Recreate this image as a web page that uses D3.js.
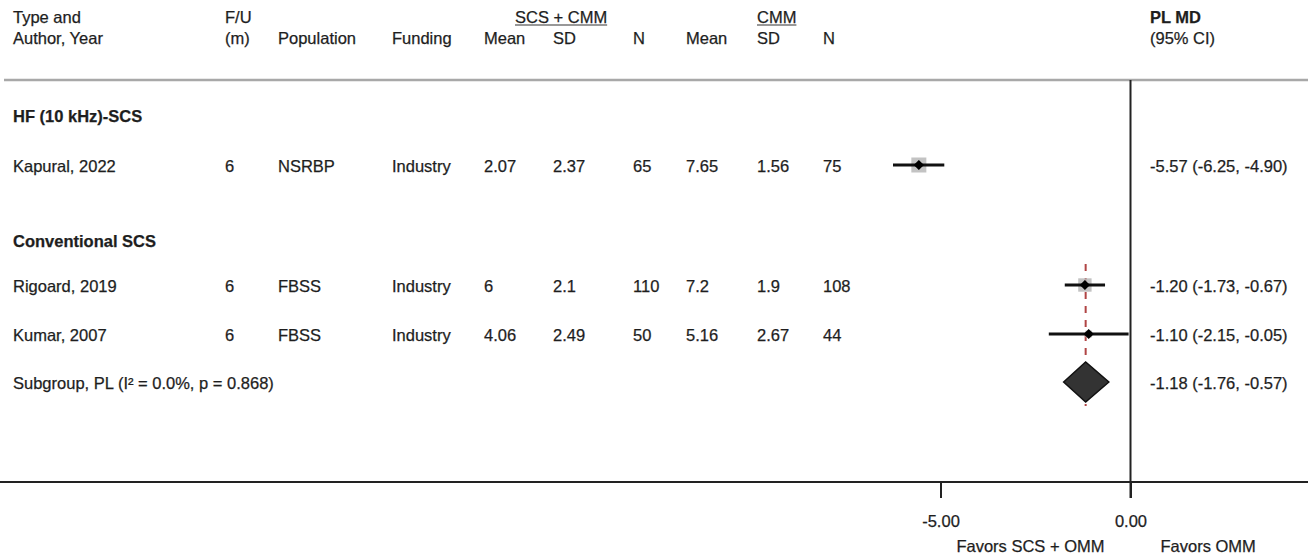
<!DOCTYPE html>
<html>
<head>
<meta charset="utf-8">
<script src="https://cdn.jsdelivr.net/npm/d3@7"></script>
<style>
  html, body { margin: 0; padding: 0; background: #fff; }
  svg text { font-family: "Liberation Sans", Arial, Helvetica, sans-serif; fill: #1e1e1e; stroke: #1e1e1e; stroke-width: 0.25px; }
</style>
</head>
<body>
<svg id="chart" width="1308" height="556"></svg>
<script>
// ---- study-level data ----
const studyNames   = ["Kapural, 2022", "Rigoard, 2019", "Kumar, 2007"];
const studyGroups  = ["HF (10 kHz)-SCS", "Conventional SCS", "Conventional SCS"];
const followUp     = [6, 6, 6];
const populations  = ["NSRBP", "FBSS", "FBSS"];
const fundings     = ["Industry", "Industry", "Industry"];
const scsMean      = [2.07, 6, 4.06];
const scsSD        = [2.37, 2.1, 2.49];
const scsN         = [65, 110, 50];
const cmmMean      = [7.65, 7.2, 5.16];
const cmmSD        = [1.56, 1.9, 2.67];
const cmmN         = [75, 108, 44];
const meanDiff     = [-5.57, -1.20, -1.10];
const ciLower      = [-6.25, -1.73, -2.15];
const ciUpper      = [-4.90, -0.67, -0.05];
const weightPct    = [100, 79.7, 20.3];

// ---- pooled estimate for the conventional subgroup ----
const pooledLabel  = "Subgroup, PL (I\u00B2 = 0.0%, p = 0.868)";
const pooledMD     = -1.18;
const pooledLower  = -1.76;
const pooledUpper  = -0.57;

// ---- axis ----
const axisTicks    = [-5, 0];
const favorsLeft   = "Favors SCS + OMM";
const favorsRight  = "Favors OMM";

const svg = d3.select("#chart");
const FS = 16.5;

// forest plot scale
const x = d3.scaleLinear().domain([-5, 0]).range([940.5, 1130.5]);

// row layout (text baselines)
const groupRows = { "HF (10 kHz)-SCS": 122, "Conventional SCS": 247 };
const studyRows = [172, 292, 341];
const pooledRow = 389;
const markOffset = -7;

// column positions
const cols = {
  author: 13, fu: 225, pop: 278, fund: 392,
  m1: 484, sd1: 553, n1: 633, m2: 686, sd2: 757, n2: 823, est: 1150
};

function txt(xp, yp, s, opts = {}) {
  const t = svg.append("text")
    .attr("x", xp).attr("y", yp)
    .attr("font-size", opts.size || FS)
    .attr("font-weight", opts.bold ? "bold" : "normal")
    .attr("text-anchor", opts.anchor || "start")
    .text(s);
  return t;
}

// ---- header ----
txt(cols.author, 22.5, "Type and");
txt(cols.author, 44, "Author, Year");
txt(cols.fu, 22.5, "F/U");
txt(cols.fu, 44, "(m)");
txt(cols.pop, 44, "Population");
txt(cols.fund, 44, "Funding");
txt(cols.m1, 44, "Mean");
txt(cols.sd1, 44, "SD");
txt(cols.n1, 44, "N");
txt(cols.m2, 44, "Mean");
txt(cols.sd2, 44, "SD");
txt(cols.n2, 44, "N");
txt(cols.est, 22.5, "PL MD", { bold: true });
txt(cols.est, 44, "(95% CI)");

function underlined(xp, yp, s) {
  const t = txt(xp, yp, s);
  const w = t.node().getComputedTextLength();
  svg.append("line")
    .attr("x1", xp).attr("x2", xp + w)
    .attr("y1", yp + 2.5).attr("y2", yp + 2.5)
    .attr("stroke", "#333").attr("stroke-width", 1.2);
}
underlined(515, 22.5, "SCS + CMM");
underlined(cols.sd2, 22.5, "CMM");

// top rule
svg.append("line")
  .attr("x1", 4).attr("x2", 1308)
  .attr("y1", 80).attr("y2", 80)
  .attr("stroke", "#a8a8a8").attr("stroke-width", 2.5);

// ---- subgroup headings ----
Object.entries(groupRows).forEach(([g, y]) => txt(cols.author, y, g, { bold: true }));

// ---- study rows ----
studyNames.forEach((name, i) => {
  const y = studyRows[i];
  txt(cols.author, y, name);
  txt(cols.fu, y, String(followUp[i]));
  txt(cols.pop, y, populations[i]);
  txt(cols.fund, y, fundings[i]);
  txt(cols.m1, y, String(scsMean[i]));
  txt(cols.sd1, y, String(scsSD[i]));
  txt(cols.n1, y, String(scsN[i]));
  txt(cols.m2, y, String(cmmMean[i]));
  txt(cols.sd2, y, String(cmmSD[i]));
  txt(cols.n2, y, String(cmmN[i]));
  txt(cols.est, y, `${meanDiff[i].toFixed(2)} (${ciLower[i].toFixed(2)}, ${ciUpper[i].toFixed(2)})`);
});
txt(cols.author, pooledRow, pooledLabel);
txt(cols.est, pooledRow, `${pooledMD.toFixed(2)} (${pooledLower.toFixed(2)}, ${pooledUpper.toFixed(2)})`);

// ---- pooled estimate reference line ----
svg.append("line")
  .attr("x1", x(pooledMD)).attr("x2", x(pooledMD))
  .attr("y1", studyRows[1] + markOffset - 21)
  .attr("y2", pooledRow + markOffset + 24)
  .attr("stroke", "#b04545").attr("stroke-width", 2)
  .attr("stroke-dasharray", "7,7");

// ---- zero line ----
const axisY = 482;
svg.append("line")
  .attr("x1", x(0)).attr("x2", x(0))
  .attr("y1", 80).attr("y2", axisY + 16)
  .attr("stroke", "#222").attr("stroke-width", 2);

// ---- study marks ----
const boxSize = d3.scaleSqrt().domain([0, 100]).range([0, 15]);
const g = svg.append("g");
studyNames.forEach((name, i) => {
  const cy = studyRows[i] + markOffset;
  const s = boxSize(weightPct[i]);
  g.append("rect")
    .attr("x", x(meanDiff[i]) - s / 2).attr("y", cy - s / 2)
    .attr("width", s).attr("height", s)
    .attr("fill", "#b8b8b8").attr("fill-opacity", 0.85);
  g.append("line")
    .attr("x1", x(ciLower[i])).attr("x2", x(ciUpper[i]))
    .attr("y1", cy).attr("y2", cy)
    .attr("stroke", "#111").attr("stroke-width", 3);
  g.append("path")
    .attr("d", d3.symbol(d3.symbolSquare, 52)())
    .attr("transform", `translate(${x(meanDiff[i])},${cy}) rotate(45)`)
    .attr("fill", "#000");
});

// ---- pooled diamond ----
const pcy = pooledRow + markOffset;
svg.append("path")
  .attr("d", `M${x(pooledLower)},${pcy} L${x(pooledMD)},${pcy - 20} L${x(pooledUpper)},${pcy} L${x(pooledMD)},${pcy + 20} Z`)
  .attr("fill", "#333").attr("stroke", "#111").attr("stroke-width", 1.5);

// ---- bottom axis ----
svg.append("line")
  .attr("x1", 0).attr("x2", 1308)
  .attr("y1", axisY).attr("y2", axisY)
  .attr("stroke", "#222").attr("stroke-width", 2);

const axis = d3.axisBottom(x)
  .tickValues(axisTicks)
  .tickFormat(d => d.toFixed(2))
  .tickSize(16)
  .tickPadding(17);
const ag = svg.append("g").attr("transform", `translate(0,${axisY})`).call(axis);
ag.select(".domain").remove();
ag.selectAll(".tick line").attr("stroke", "#222").attr("stroke-width", 2);
ag.selectAll(".tick text")
  .attr("font-size", FS)
  .attr("font-family", "'Liberation Sans', Arial, sans-serif")
  .attr("fill", "#1e1e1e");

txt(x(0) - 26, 551.5, favorsLeft, { anchor: "end" });
txt(x(0) + 30, 551.5, favorsRight);
</script>
</body>
</html>
